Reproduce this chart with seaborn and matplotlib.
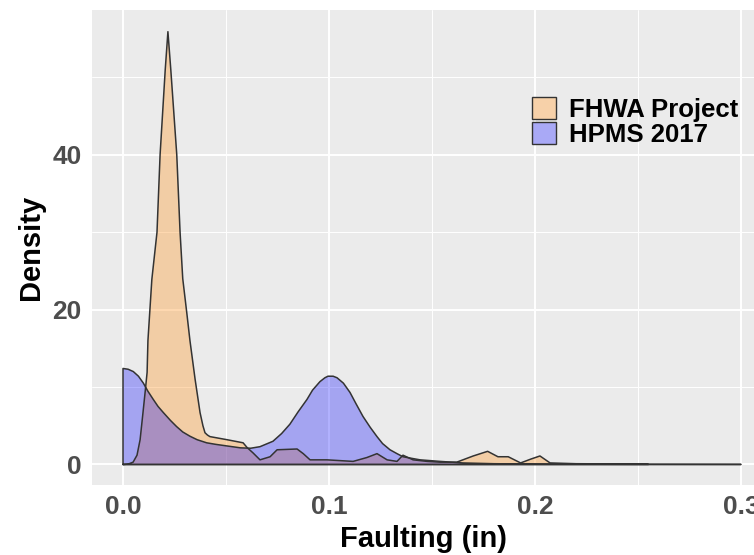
import numpy as np
import pandas as pd
import matplotlib
matplotlib.use("Agg")
import matplotlib.pyplot as plt
from matplotlib.patches import Patch
from matplotlib.colors import to_rgba
import seaborn as sns

# ---- data (kernel density curves) ----
groups = ["FHWA Project", "HPMS 2017"]

fhwa_x = [0.0, 0.0025, 0.0049, 0.0068, 0.0083, 0.0097, 0.0108, 0.0117, 0.0121, 0.014, 0.0165,
          0.018, 0.0205, 0.0218, 0.0232, 0.0261, 0.0277, 0.029, 0.031, 0.0325, 0.035, 0.0374,
          0.0388, 0.0398, 0.041, 0.0422, 0.0505, 0.0583, 0.0602, 0.0631, 0.0665, 0.0714,
          0.0748, 0.0845, 0.0875, 0.0908, 0.099, 0.1053, 0.1117, 0.1184, 0.1233, 0.1282,
          0.133, 0.1359, 0.1408, 0.1476, 0.1539, 0.162, 0.17, 0.177, 0.182, 0.187, 0.193,
          0.198, 0.2024, 0.2073, 0.22, 0.255]
fhwa_d = [0.0, 0.05, 0.3, 1.2, 3.2, 6.7, 9.5, 11.9, 16.0, 23.9, 30.0,
          40.0, 51.0, 55.9, 51.0, 40.0, 30.0, 24.0, 19.5, 16.0, 11.0, 6.7,
          5.0, 4.1, 3.8, 3.6, 3.2, 2.8, 2.2, 1.5, 0.6, 1.0,
          1.9, 2.0, 1.4, 0.6, 0.6, 0.5, 0.4, 0.9, 1.4, 0.6,
          0.4, 1.2, 0.6, 0.4, 0.3, 0.3, 1.1, 1.7, 1.0, 1.0, 0.2,
          0.7, 1.1, 0.2, 0.1, 0.05]

hpms_x = [0.0, 0.0025, 0.005, 0.0075, 0.0099, 0.012, 0.0147, 0.017, 0.0196, 0.023, 0.026,
          0.029, 0.0325, 0.036, 0.0406, 0.045, 0.0503, 0.057, 0.062, 0.0665, 0.0728,
          0.077, 0.081, 0.085, 0.0893, 0.092, 0.0956, 0.098, 0.0995, 0.102, 0.1039,
          0.107, 0.1102, 0.113, 0.1165, 0.12, 0.1233, 0.126, 0.1296, 0.133, 0.1359,
          0.14, 0.1442, 0.1539, 0.165, 0.18, 0.2, 0.25, 0.3]
hpms_d = [12.4, 12.3, 12.0, 11.4, 10.5, 9.5, 8.4, 7.5, 6.7, 5.7, 4.9,
          4.2, 3.65, 3.2, 2.8, 2.6, 2.4, 2.15, 2.1, 2.3, 3.0,
          4.0, 5.2, 6.8, 8.4, 9.6, 10.7, 11.2, 11.4, 11.4, 11.2,
          10.5, 9.3, 7.9, 6.2, 4.8, 3.6, 2.7, 1.9, 1.4, 1.0,
          0.8, 0.6, 0.4, 0.2, 0.1, 0.05, 0.02, 0.01]

x_ticks = [0.0, 0.1, 0.2, 0.3]
x_tick_labels = ["0.0", "0.1", "0.2", "0.3"]
y_ticks = [0, 20, 40]
y_tick_labels = ["0", "20", "40"]

fills = {"FHWA Project": "#FFA03C", "HPMS 2017": "blue"}
alphas = {"FHWA Project": 0.4, "HPMS 2017": 0.3}
edge = "#333333"

# ---- styling ----
sns.set_style("darkgrid", {"axes.facecolor": "#EBEBEB", "grid.color": "white"})
plt.rcParams["font.family"] = ["Liberation Sans", "DejaVu Sans"]
plt.rcParams["font.weight"] = "bold"

fig = plt.figure(figsize=(7.54, 5.55), dpi=100)
ax = fig.add_axes([92 / 754, 1 - 485 / 555, 1 - 92 / 754, (485 - 10) / 555])

frames = []
for g, xs, ds in [("FHWA Project", fhwa_x, fhwa_d), ("HPMS 2017", hpms_x, hpms_d)]:
    frames.append(pd.DataFrame({"x": xs, "density": ds, "group": g}))
df = pd.concat(frames, ignore_index=True)

for g in groups:
    sub = df[df["group"] == g]
    px = np.concatenate([[sub["x"].iloc[0]], sub["x"].values, [sub["x"].iloc[-1]], [sub["x"].iloc[0]]])
    py = np.concatenate([[0.0], sub["density"].values, [0.0], [0.0]])
    ax.fill(px, py, facecolor=to_rgba(fills[g], alphas[g]), edgecolor="none", zorder=2)
    outline = pd.DataFrame({"x": px, "y": py})
    sns.lineplot(data=outline, x="x", y="y", sort=False, estimator=None,
                 color=edge, linewidth=1.1, ax=ax, zorder=3)

ax.set_xlim(-0.01505, 0.3063)
ax.set_ylim(-2.65, 58.7)
ax.set_xticks(x_ticks)
ax.set_xticklabels(x_tick_labels)
ax.set_yticks(y_ticks)
ax.set_yticklabels(y_tick_labels)
ax.set_xticks([0.05, 0.15, 0.25], minor=True)
ax.set_yticks([10, 30, 50], minor=True)
ax.grid(which="major", color="white", linewidth=1.4)
ax.grid(which="minor", color="white", linewidth=0.7)
ax.set_axisbelow(True)
for s in ax.spines.values():
    s.set_visible(False)

ax.tick_params(axis="both", which="major", length=4.5, width=0.9, color="#333333",
               labelsize=19, labelcolor="#4D4D4D", pad=3)
ax.tick_params(axis="both", which="minor", length=0)
for lab in ax.get_xticklabels() + ax.get_yticklabels():
    lab.set_fontweight("bold")

ax.set_xlabel("Faulting (in)", fontsize=21, fontweight="bold", color="black", labelpad=4)
ax.set_ylabel("Density", fontsize=21, fontweight="bold", color="black", labelpad=5)

# legend
def over(c, a, bg=(242 / 255, 242 / 255, 242 / 255)):
    r = to_rgba(c)
    return tuple(a * r[i] + (1 - a) * bg[i] for i in range(3))

handles = [Patch(facecolor=over(fills[g], alphas[g]), edgecolor=edge, linewidth=1.0, label=g)
           for g in groups]
leg = ax.legend(handles=handles, loc="upper left",
                bbox_to_anchor=(532 / 754, 1 - 97 / 555), bbox_transform=fig.transFigure,
                frameon=False, fontsize=18.5, handlelength=0.95, handleheight=0.95,
                handletextpad=0.5, labelspacing=0.0, borderpad=0.0, borderaxespad=0.0)
for t in leg.get_texts():
    t.set_fontweight("bold")
    t.set_color("black")

fig.savefig("out.png", dpi=100)
